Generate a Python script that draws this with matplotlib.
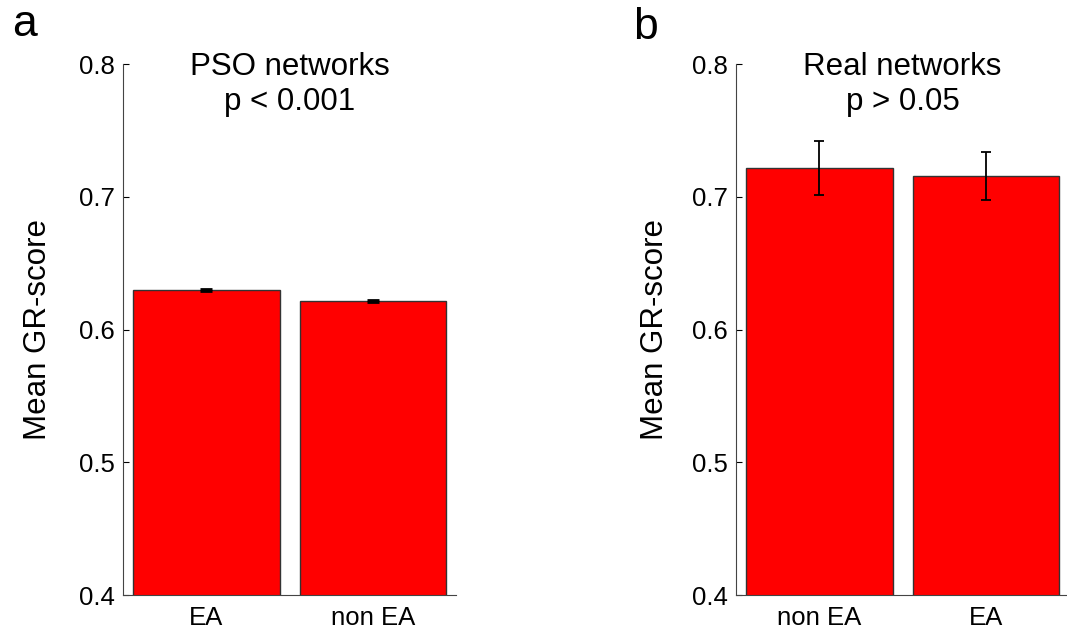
import numpy as np
import matplotlib
matplotlib.use('Agg')
import matplotlib.pyplot as plt

plt.rcParams['font.family'] = ['Liberation Sans', 'DejaVu Sans']

# panel a: PSO networks
pso_labels = ['EA', 'non EA']
pso_means = [0.6298, 0.6215]
pso_err = [0.0008, 0.0007]

# panel b: real networks
real_labels = ['non EA', 'EA']
real_means = [0.7217, 0.7156]
real_err = [0.020, 0.018]

yticks = [0.4, 0.5, 0.6, 0.7, 0.8]

fig = plt.figure(figsize=(10.67, 6.28), dpi=100)
ax1 = fig.add_axes([0.1153, 0.0525, 0.3121, 0.8455])
ax2 = fig.add_axes([0.6898, 0.0525, 0.3121, 0.8455])


def draw_panel(ax, labels, means, err, title1, title2, capsize, lw, label_x):
    x = np.arange(1, len(labels) + 1)
    ax.bar(x, means, width=0.88, color='#ff0000', edgecolor='#333333', linewidth=1.0, zorder=2)
    ax.errorbar(x, means, yerr=err, fmt='none', ecolor='black', elinewidth=lw,
                capsize=capsize, capthick=lw, zorder=3)
    ax.set_xlim(0.5, 2.5)
    ax.set_ylim(0.4, 0.8)
    ax.set_yticks(yticks)
    ax.set_yticklabels(['%.1f' % t for t in yticks])
    ax.set_xticks(x)
    ax.set_xticklabels(labels)
    ax.tick_params(axis='y', direction='in', length=4, width=0.8, labelsize=18.5, pad=6)
    ax.tick_params(axis='x', length=0, labelsize=18.5, pad=8)
    for s in ['top', 'right']:
        ax.spines[s].set_visible(False)
    for s in ['left', 'bottom']:
        ax.spines[s].set_color('#444444')
        ax.spines[s].set_linewidth(0.8)
    ax.set_ylabel('Mean GR-score', fontsize=22.5)
    ax.yaxis.set_label_coords(label_x, 0.5)
    ax.text(0.5, 0.979, title1, transform=ax.transAxes, ha='center', va='baseline', fontsize=22.5)
    ax.text(0.5, 0.913, title2, transform=ax.transAxes, ha='center', va='baseline', fontsize=22.5)


draw_panel(ax1, pso_labels, pso_means, pso_err, 'PSO networks', 'p < 0.001', 4, 2.0, -0.21)
draw_panel(ax2, real_labels, real_means, real_err, 'Real networks', 'p > 0.05', 3.5, 1.3, -0.198)

fig.text(12 / 1067, 1 - 36 / 628, 'a', fontsize=32, va='baseline', ha='left')
fig.text(633 / 1067, 1 - 39 / 628, 'b', fontsize=32, va='baseline', ha='left')

fig.savefig('out.png', dpi=100)
